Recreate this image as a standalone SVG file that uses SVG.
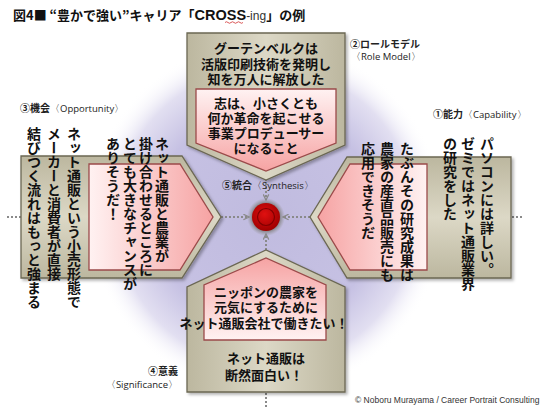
<svg xmlns="http://www.w3.org/2000/svg" width="550" height="413" viewBox="0 0 550 413">
<defs>
<radialGradient id="purple" cx="266" cy="217" r="178" gradientUnits="userSpaceOnUse">
<stop offset="0" stop-color="#c0bbdf"/>
<stop offset="0.62" stop-color="#c6c1e3"/>
<stop offset="0.84" stop-color="#e2dff1"/>
<stop offset="1" stop-color="#ffffff" stop-opacity="0"/>
</radialGradient>
<linearGradient id="grayH" x1="0" y1="0" x2="1" y2="0">
<stop offset="0" stop-color="#bcb79f"/>
<stop offset="0.5" stop-color="#dcd8c6"/>
<stop offset="1" stop-color="#bcb79f"/>
</linearGradient>
<linearGradient id="grayV" x1="0" y1="0" x2="0" y2="1">
<stop offset="0" stop-color="#bcb79f"/>
<stop offset="0.5" stop-color="#dcd8c6"/>
<stop offset="1" stop-color="#bcb79f"/>
</linearGradient>
<linearGradient id="pinkDown" x1="0" y1="0" x2="0" y2="1">
<stop offset="0" stop-color="#fff2f2"/>
<stop offset="1" stop-color="#f6a3a3"/>
</linearGradient>
<linearGradient id="pinkUp" x1="0" y1="1" x2="0" y2="0">
<stop offset="0" stop-color="#fff2f2"/>
<stop offset="1" stop-color="#f6a3a3"/>
</linearGradient>
<linearGradient id="pinkRight" x1="0" y1="0" x2="1" y2="0">
<stop offset="0" stop-color="#fff2f2"/>
<stop offset="1" stop-color="#f6a3a3"/>
</linearGradient>
<linearGradient id="pinkLeft" x1="1" y1="0" x2="0" y2="0">
<stop offset="0" stop-color="#fff2f2"/>
<stop offset="1" stop-color="#f6a3a3"/>
</linearGradient>
<radialGradient id="redball" cx="0.45" cy="0.4" r="0.6">
<stop offset="0" stop-color="#e01010"/>
<stop offset="1" stop-color="#a00000"/>
</radialGradient>
<radialGradient id="halo" cx="0.5" cy="0.5" r="0.5">
<stop offset="0.6" stop-color="#5a5a50"/>
<stop offset="1" stop-color="#8a8a80" stop-opacity="0"/>
</radialGradient>
<filter id="sh" x="-10%" y="-10%" width="130%" height="130%">
<feDropShadow dx="2" dy="2" stdDeviation="1.5" flood-color="#000" flood-opacity="0.3"/>
</filter>
<marker id="arr" viewBox="0 0 10 10" refX="9" refY="5" markerWidth="7" markerHeight="7" orient="auto" markerUnits="userSpaceOnUse">
<path d="M1,1 L9,5 L1,9" fill="none" stroke="#8a8a8a" stroke-width="1.8"/>
</marker>
</defs>
<style>
.gray{stroke:#6b6753;stroke-width:1.3}
.pink{stroke:#9b4a4a;stroke-width:1.3}
.jp{font-family:"Noto Sans CJK JP","Noto Sans",sans-serif;font-weight:bold;fill:#111}
.ct{text-anchor:middle;font-size:13px}
.vt{writing-mode:vertical-rl;font-size:14px}
.lbl{font-family:"Noto Sans CJK JP","Noto Sans",sans-serif;font-size:10px;fill:#222}
.en{font-family:"Open Sans","Liberation Sans","Noto Sans",sans-serif;font-weight:normal;font-size:9.5px;fill:#222}
.dot{stroke:#8a8a8a;stroke-width:2;stroke-dasharray:2 2;fill:none}
</style>
<rect width="550" height="413" fill="#ffffff"/>
<circle cx="266" cy="217" r="178" fill="url(#purple)"/>

<text x="13" y="20" class="jp" font-size="13">図4■ “豊かで強い”キャリア「<tspan font-family="Liberation Sans,Arial,sans-serif" font-weight="900" font-size="14.5">CROSS</tspan><tspan font-family="Liberation Sans,Arial,sans-serif" font-weight="normal" font-size="12" fill="#333">-ing</tspan>」の例</text>
<path d="M225,22.5 q1.5,-1.5 3,0 t3,0 t3,0 t3,0 t3,0 t3,0" fill="none" stroke="#d03030" stroke-width="0.8"/>

<g id="connectors">
<line x1="7" y1="217" x2="21" y2="217" class="dot"/>
<line x1="512" y1="217" x2="524" y2="217" class="dot"/>
<line x1="266" y1="393" x2="266" y2="408" class="dot"/>
<line x1="213" y1="217" x2="249" y2="217" class="dot" marker-end="url(#arr)"/>
<line x1="318" y1="217" x2="283" y2="217" class="dot" marker-end="url(#arr)"/>
<line x1="266" y1="171" x2="266" y2="200" class="dot" marker-end="url(#arr)"/>
<line x1="266" y1="258" x2="266" y2="234" class="dot" marker-end="url(#arr)"/>
</g>

<g id="role-model">
<path d="M187,33 H345 V145 L266,180 L187,145 Z" class="gray" fill="url(#grayH)" filter="url(#sh)"/>
<path d="M196,89 H336 V143 L266,171 L196,143 Z" class="pink" fill="url(#pinkDown)"/>
<text class="jp ct" x="266" y="53">グーテンベルクは</text>
<text class="jp ct" x="266" y="69">活版印刷技術を発明し</text>
<text class="jp ct" x="266" y="84">知を万人に解放した</text>
<text class="jp ct" x="266" y="108">志は、小さくとも</text>
<text class="jp ct" x="266" y="123">何か革命を起こせる</text>
<text class="jp ct" x="266" y="138">事業プロデューサー</text>
<text class="jp ct" x="266" y="153">になること</text>
<text class="lbl" x="350" y="48" font-weight="bold">②ロールモデル</text>
<text class="en" x="351" y="60">〈Role Model〉</text>
</g>

<g id="opportunity">
<path d="M21,156 H182 L221,217 L182,278 H21 Z" class="gray" fill="url(#grayV)" filter="url(#sh)"/>
<path d="M89,164 H180 L213,217 L180,270 H89 Z" class="pink" fill="url(#pinkRight)"/>
<text class="jp vt" x="74" y="127">ネット通販という小売形態で</text>
<text class="jp vt" x="54" y="127">メーカーと消費者が直接</text>
<text class="jp vt" x="34" y="127">結びつく流れはもっと強まる</text>
<text class="jp vt" x="162" y="137">ネット通販と農業が</text>
<text class="jp vt" x="146" y="137">掛け合わせるところに</text>
<text class="jp vt" x="130" y="137">とても大きなチャンスが</text>
<text class="jp vt" x="113" y="137">ありそうだ！</text>
<text class="lbl" x="20" y="112"><tspan font-weight="bold">③機会</tspan><tspan class="en">〈Opportunity〉</tspan></text>
</g>

<g id="capability">
<path d="M511,157 H347 L310,217 L347,278 H511 Z" class="gray" fill="url(#grayV)" filter="url(#sh)"/>
<path d="M427,164 H350 L318,217 L350,270 H427 Z" class="pink" fill="url(#pinkLeft)"/>
<text class="jp vt" x="487" y="137">パソコンには詳しい。</text>
<text class="jp vt" x="468" y="137">ゼミではネット通販業界</text>
<text class="jp vt" x="450" y="137">の研究をした</text>
<text class="jp vt" x="407" y="142">たぶんその研究成果は</text>
<text class="jp vt" x="387" y="142">農家の産直品販売にも</text>
<text class="jp vt" x="368" y="142">応用できそうだ</text>
<text class="lbl" x="433" y="118"><tspan font-weight="bold">①能力</tspan><tspan class="en">〈Capability〉</tspan></text>
</g>

<g id="significance">
<path d="M187,392 H345 V287 L266,250 L187,287 Z" class="gray" fill="url(#grayH)" filter="url(#sh)"/>
<path d="M204,340 H326 V285 L266,258 L204,285 Z" class="pink" fill="url(#pinkUp)"/>
<text class="jp ct" x="266" y="297" font-size="12.5">ニッポンの農家を</text>
<text class="jp ct" x="266" y="312" font-size="12.5">元気にするために</text>
<text class="jp ct" x="264" y="328" font-size="12.5">ネット通販会社で働きたい！</text>
<text class="jp ct" x="266" y="363" font-size="14">ネット通販は</text>
<text class="jp ct" x="264" y="380" font-size="14">断然面白い！</text>
<text class="lbl" x="178" y="375" text-anchor="end" font-weight="bold">④意義</text>
<text class="en" x="178" y="388" text-anchor="end">〈Significance〉</text>
</g>

<g id="synthesis">
<circle cx="266" cy="217" r="19" fill="url(#halo)"/>
<circle cx="266" cy="217" r="14" fill="url(#redball)"/>
<circle cx="266" cy="217" r="8.5" fill="none" stroke="#800000" stroke-width="1.2"/>
<text class="lbl" x="222" y="189" font-size="12"><tspan font-weight="bold">⑤統合</tspan><tspan class="en" font-size="11">〈Synthesis〉</tspan></text>
</g>

<text x="355" y="403" font-family="Liberation Sans,Arial,sans-serif" font-size="8.5" fill="#333">© Noboru Murayama / Career Portrait Consulting</text>
</svg>
